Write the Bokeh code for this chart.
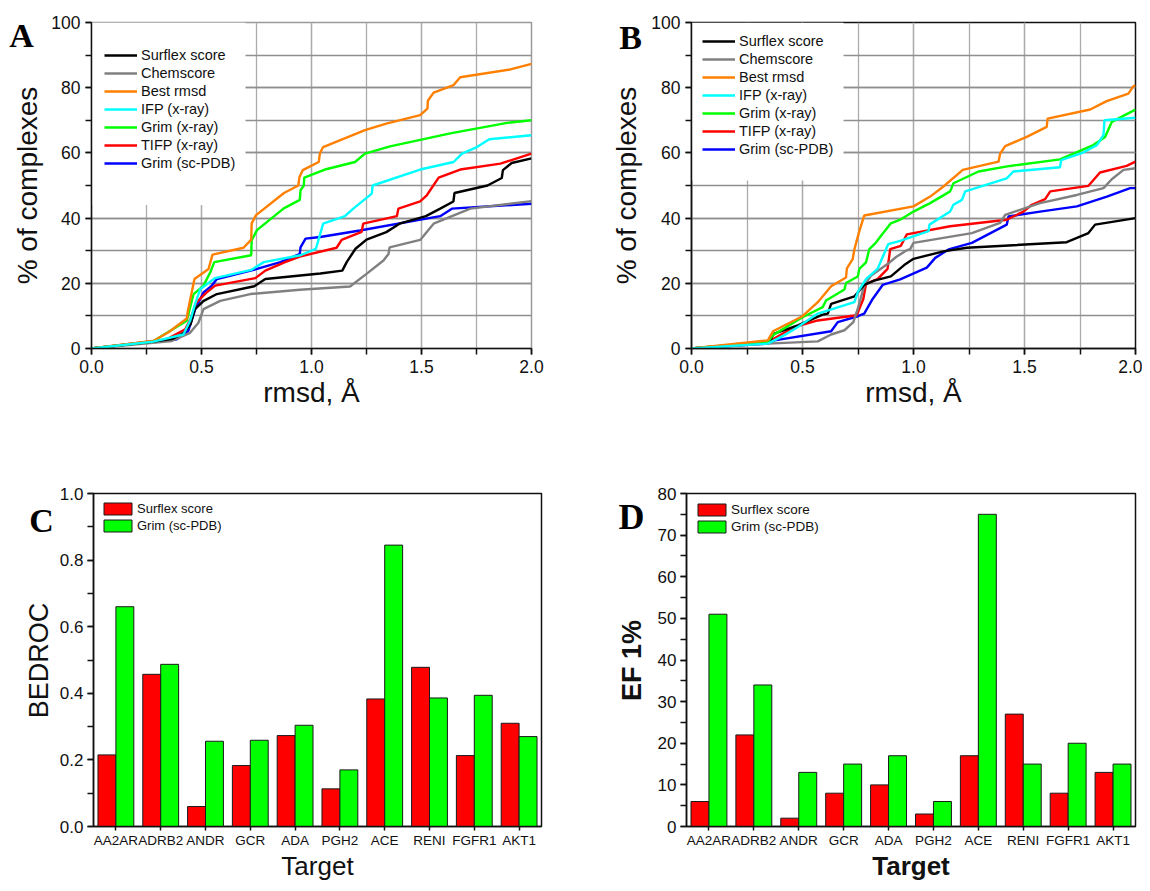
from bokeh.plotting import figure
from bokeh.models import (Range1d, FactorRange, SingleIntervalTicker, PrintfTickFormatter,
                          Legend, LegendItem, Label, BoxAnnotation, ColumnDataSource)
from bokeh.transform import dodge
from bokeh.layouts import row, column
from bokeh.embed import file_html
from bokeh.resources import INLINE

FONT = "Liberation Sans"
SERIF = "Liberation Serif"
INK = "#111111"

series_names = ["Surflex score", "Chemscore", "Best rmsd", "IFP (x-ray)",
                "Grim (x-ray)", "TIFP (x-ray)", "Grim (sc-PDB)"]
series_colors = ["#000000", "#808080", "#FF8000", "#00FFFF", "#00FF00", "#FF0000", "#0000FF"]

# ---------------- Panel A data (rmsd, % of complexes) ----------------
a_surflex_x = [0, 0.28, 0.37, 0.42, 0.45, 0.47, 0.51, 0.57, 0.74, 0.79, 1.04, 1.14, 1.16, 1.20, 1.25,
               1.34, 1.40, 1.52, 1.585, 1.645, 1.65, 1.80, 1.865, 1.87, 1.91, 2.0]
a_surflex_y = [0, 2.1, 3, 4.8, 7.4, 12.1, 14.6, 16.7, 19.1, 21.3, 23, 23.9, 26.5, 30.6, 33.4,
               35.7, 38.3, 40.6, 42.9, 45.1, 47.7, 50, 52.3, 54.7, 56.9, 58.3]
a_chem_x = [0, 0.365, 0.448, 0.486, 0.509, 0.585, 0.722, 0.947, 1.175, 1.25, 1.327, 1.35, 1.355,
            1.494, 1.555, 1.722, 2.0]
a_chem_y = [0, 2.3, 4.8, 7.9, 12.1, 14.6, 16.7, 18, 19, 22.9, 27, 29, 31, 33.3, 38.3, 42.9, 45.2]
a_best_x = [0, 0.281, 0.35, 0.433, 0.438, 0.468, 0.532, 0.55, 0.691, 0.726, 0.728, 0.748, 0.875,
            0.94, 0.945, 0.96, 1.033, 1.038, 1.053, 1.243, 1.34, 1.494, 1.527, 1.529, 1.555,
            1.646, 1.676, 1.904, 2.0]
a_best_y = [0, 2.3, 5, 9.2, 11.5, 21.3, 24.4, 28.8, 30.9, 33.4, 38.4, 40.9, 47.7,
            50, 52.5, 54.7, 57.2, 59.8, 61.8, 67, 69, 71.6, 73.6, 76, 78.5,
            80.8, 83.2, 85.6, 87.3]
a_ifp_x = [0, 0.281, 0.418, 0.448, 0.471, 0.494, 0.562, 0.726, 0.783, 0.95, 1.02, 1.053, 1.152,
           1.19, 1.274, 1.278, 1.494, 1.646, 1.684, 1.752, 1.808, 2.0]
a_ifp_y = [0, 2.1, 4.3, 8.5, 13.6, 18.2, 21.6, 24.1, 26.5, 28.6, 30.6, 38.3, 40.6,
           42.9, 47.5, 50, 54.9, 57.2, 59.8, 61.8, 64.2, 65.4]
a_grimx_x = [0, 0.28, 0.433, 0.464, 0.509, 0.54, 0.558, 0.726, 0.728, 0.752, 0.874, 0.947, 0.95,
             0.965, 0.967, 1.061, 1.198, 1.243, 1.357, 1.631, 1.889, 2.0]
a_grimx_y = [0, 2.2, 8.5, 16.7, 19.3, 23.4, 26.5, 28.6, 33.2, 36.3, 43, 45.6, 48.5,
             50, 52.4, 54.9, 57.2, 59.8, 62, 66, 69.2, 70]
a_tifp_x = [0, 0.342, 0.426, 0.45, 0.475, 0.52, 0.562, 0.745, 0.79, 0.88, 0.947, 1.114, 1.137,
            1.228, 1.235, 1.388, 1.395, 1.494, 1.524, 1.578, 1.676, 1.859, 2.0]
a_tifp_y = [0, 2.8, 5.9, 9, 14, 17, 19.3, 21.6, 23.9, 26.5, 28.2, 30.9, 33.3,
            35.8, 38.3, 40.6, 42.9, 45.1, 47, 52.4, 54.9, 56.7, 59.8]
a_grims_x = [0, 0.388, 0.44, 0.471, 0.509, 0.547, 0.57, 0.752, 0.859, 0.947, 0.95, 0.973, 1.04,
             1.22, 1.585, 1.638, 2.0]
a_grims_y = [0, 2.8, 5.4, 12, 17.2, 19.3, 21.3, 24.4, 26.5, 29, 31, 33.7, 34.2,
             36.2, 40.6, 42.9, 44.4]

# ---------------- Panel B data ----------------
b_surflex_x = [0, 0.352, 0.37, 0.479, 0.591, 0.614, 0.629, 0.734, 0.778, 0.823, 0.898, 0.958, 1.0,
               1.135, 1.24, 1.69, 1.788, 1.818, 2.0]
b_surflex_y = [0, 2, 4.5, 7.1, 10.4, 10.7, 13.7, 16, 19.5, 20.8, 22.1, 25.6, 27.5,
               29.8, 30.9, 32.6, 35.4, 38, 40]
b_chem_x = [0, 0.344, 0.569, 0.629, 0.689, 0.729, 0.749, 0.778, 0.808, 0.883, 0.92, 0.966, 0.985,
            1.0, 1.263, 1.39, 1.413, 1.57, 1.736, 1.856, 1.893, 1.946, 2.0]
b_chem_y = [0, 1.5, 2.2, 4.3, 5.6, 8.1, 12.2, 19.3, 22.3, 25.9, 28, 30, 30.5,
            32.4, 35.4, 38.5, 41, 44.6, 47.1, 49.2, 51.9, 54.8, 55.3]
b_best_x = [0, 0.344, 0.367, 0.5, 0.569, 0.629, 0.696, 0.7, 0.726, 0.734, 0.756, 0.778, 1.0,
            1.075, 1.135, 1.222, 1.383, 1.39, 1.413, 1.51, 1.6, 1.604, 1.796, 1.87, 1.968,
            1.99, 2.0]
b_best_y = [0, 2.5, 5.3, 9.9, 14.2, 19.1, 21.8, 24.6, 27.4, 30.5, 36, 40.8, 43.6,
            46.6, 49.7, 54.8, 57.3, 59.7, 62.1, 64.9, 68, 70.5, 73.3, 75.9, 78.2,
            80.4, 80.7]
b_ifp_x = [0, 0.344, 0.419, 0.479, 0.569, 0.734, 0.749, 0.786, 0.838, 0.886, 0.94, 1.068, 1.072,
           1.165, 1.18, 1.218, 1.233, 1.42, 1.45, 1.66, 1.665, 1.758, 1.826, 1.856, 1.86, 2.0]
b_ifp_y = [0, 1.5, 4.1, 6.6, 10.7, 14.2, 17.3, 21.3, 24.4, 32, 33, 36, 38,
           42, 44.1, 45.6, 48.2, 52.2, 54.3, 55.6, 57.8, 59.9, 62.4, 65.5, 70, 70.8]
b_grimx_x = [0, 0.344, 0.367, 0.5, 0.591, 0.606, 0.689, 0.696, 0.749, 0.756, 0.786, 0.801, 0.831,
             0.853, 0.898, 0.94, 1.0, 1.075, 1.165, 1.18, 1.293, 1.435, 1.66, 1.81, 1.863,
             1.893, 2.0]
b_grimx_y = [0, 2, 4.1, 9.6, 12.7, 14.7, 18.1, 20.1, 22.1, 24.4, 26.4, 30.5, 32.5,
             34.5, 38.4, 39.5, 42, 44.6, 48.2, 50.7, 54.3, 56, 58, 62.4, 64.9,
             69.5, 73.3]
b_tifp_x = [0, 0.344, 0.464, 0.569, 0.744, 0.774, 0.786, 0.838, 0.883, 0.895, 0.943, 0.97, 1.165,
            1.42, 1.495, 1.533, 1.593, 1.616, 1.788, 1.84, 1.96, 2.0]
b_tifp_y = [0, 2, 6.6, 8.6, 10.2, 15.2, 19.8, 21.3, 24.4, 30.5, 31.5, 35, 37.5,
            39.5, 42, 44.1, 45.8, 48.2, 49.9, 54, 56, 57.3]
b_grims_x = [0, 0.344, 0.374, 0.629, 0.659, 0.749, 0.778, 0.816, 0.861, 0.94, 1.06, 1.098, 1.158,
             1.263, 1.42, 1.428, 1.57, 1.736, 1.871, 1.976, 2.0]
b_grims_y = [0, 1.5, 2.5, 5.3, 8.1, 9.9, 10.7, 15.2, 19.5, 21.2, 24.8, 27.8, 30.4,
             32.4, 38, 40.5, 42, 43.6, 46.6, 49.2, 49.2]

# ---------------- Panels C / D data ----------------
targets = ["AA2AR", "ADRB2", "ANDR", "GCR", "ADA", "PGH2", "ACE", "RENI", "FGFR1", "AKT1"]
bedroc_surflex = [0.215, 0.457, 0.060, 0.183, 0.273, 0.113, 0.383, 0.478, 0.213, 0.310]
bedroc_grim = [0.660, 0.487, 0.256, 0.259, 0.304, 0.170, 0.845, 0.386, 0.394, 0.270]
ef1_surflex = [6, 22, 2, 8, 10, 3, 17, 27, 8, 13]
ef1_grim = [51, 34, 13, 15, 17, 6, 75, 15, 20, 15]
bar_labels = ["Surflex score", "Grim (sc-PDB)"]
bar_colors = ["#FF0000", "#00FF00"]


def style_axes(p, tick_size, label_size, label_style="normal"):
    for ax in p.axis:
        ax.axis_line_color = INK
        ax.axis_line_width = 1.5
        ax.major_tick_line_color = INK
        ax.major_tick_line_width = 1.5
        ax.minor_tick_line_color = INK
        ax.minor_tick_line_width = 1.5
        ax.major_tick_in = 0
        ax.major_tick_out = 6
        ax.minor_tick_in = 0
        ax.minor_tick_out = 6
        ax.major_label_text_font = FONT
        ax.major_label_text_font_size = tick_size
        ax.major_label_text_color = INK
        ax.axis_label_text_font = FONT
        ax.axis_label_text_font_size = label_size
        ax.axis_label_text_font_style = label_style
        ax.axis_label_text_color = INK


def side_strip(width, height, frame_top, frame_bottom, letter, letter_x, letter_y, letter_size,
               ytitle, ytitle_x, ytitle_y, ytitle_size, ytitle_style):
    """Narrow figure holding the panel letter and the rotated y-axis title.
    Its frame is aligned with the neighbouring plot frames (rows align frames), so the
    y range is chosen to make one data unit equal one pixel measured from the canvas bottom."""
    s = figure(width=width, height=height, x_range=Range1d(0, width),
               y_range=Range1d(height - frame_bottom, height - frame_top),
               output_backend="svg", toolbar_location=None, min_border=0,
               x_axis_type=None, y_axis_type=None)
    s.outline_line_color = None
    s.background_fill_color = "white"
    s.border_fill_color = "white"
    s.add_layout(Label(x=letter_x, y=letter_y, text=letter, text_font=SERIF,
                       text_font_style="bold", text_font_size=letter_size, text_align="center",
                       text_baseline="alphabetic", text_color="#000000"))
    s.add_layout(Label(x=ytitle_x, y=ytitle_y, text=ytitle, angle=90, angle_units="deg",
                       text_font=FONT, text_font_style=ytitle_style,
                       text_font_size=ytitle_size, text_align="center",
                       text_baseline="middle", text_color=INK))
    return s


def curve_panel(curves, width, height, borders, box, leg_loc, outline):
    bl, br, bt, bb = borders
    p = figure(width=width, height=height, x_range=Range1d(0, 2), y_range=Range1d(0, 100),
               output_backend="svg", toolbar_location=None,
               min_border_left=bl, min_border_right=br, min_border_top=bt, min_border_bottom=bb)
    p.background_fill_color = "white"
    p.border_fill_color = "white"
    p.outline_line_color = outline
    p.outline_line_width = 1.5
    p.xaxis.ticker = SingleIntervalTicker(interval=0.5, num_minor_ticks=2)
    p.yaxis.ticker = SingleIntervalTicker(interval=20, num_minor_ticks=2)
    p.xaxis.formatter = PrintfTickFormatter(format="%.1f")
    p.xaxis.axis_label = "rmsd, Å"
    style_axes(p, "17.5px", "28px")
    p.xaxis.major_label_standoff = 5
    p.yaxis.major_label_standoff = 5
    p.xaxis.axis_label_standoff = 1
    p.xgrid.grid_line_color = "#ABABAB"
    p.xgrid.minor_grid_line_color = "#ABABAB"
    p.ygrid.grid_line_color = "#8F8F8F"
    p.ygrid.minor_grid_line_color = "#8F8F8F"
    for g in (p.xgrid[0], p.ygrid[0]):
        g.grid_line_width = 1.3
        g.minor_grid_line_width = 1.3
    p.add_layout(BoxAnnotation(left=0, right=box[0], bottom=box[1], top=100,
                               fill_color="white", fill_alpha=1.0, line_alpha=0,
                               level="underlay"))
    rends = {}
    draw_order = [6, 5, 1, 0, 4, 2, 3]
    for i in draw_order:
        xs, ys = curves[i]
        rends[i] = p.line(xs, ys, line_color=series_colors[i], line_width=2.4)
    items = [LegendItem(label=series_names[i], renderers=[rends[i]]) for i in range(7)]
    leg = Legend(items=items, location=leg_loc, padding=0, margin=0, spacing=0,
                 glyph_width=33, glyph_height=18, label_height=18, label_standoff=4,
                 label_text_font=FONT, label_text_font_size="14.5px", label_text_color=INK,
                 background_fill_alpha=0, border_line_alpha=0)
    p.add_layout(leg)
    return p


def bar_panel(vals_s, vals_g, ymax, interval, xlabel_style, width, height, borders,
              leg_margin, leg_font):
    bl, br, bt, bb = borders
    p = figure(width=width, height=height, x_range=FactorRange(*targets, range_padding=0),
               y_range=Range1d(0, ymax), output_backend="svg", toolbar_location=None,
               min_border_left=bl, min_border_right=br, min_border_top=bt, min_border_bottom=bb)
    p.background_fill_color = "white"
    p.border_fill_color = "white"
    p.outline_line_color = INK
    p.outline_line_width = 1.5
    p.xgrid.visible = False
    p.ygrid.visible = False
    src = ColumnDataSource(dict(target=targets, s=vals_s, g=vals_g))
    r1 = p.vbar(x=dodge("target", -0.2, range=p.x_range), top="s", width=0.4, source=src,
                fill_color=bar_colors[0], line_color="#1a1a1a", line_width=1)
    r2 = p.vbar(x=dodge("target", 0.2, range=p.x_range), top="g", width=0.4, source=src,
                fill_color=bar_colors[1], line_color="#1a1a1a", line_width=1)
    p.yaxis.ticker = SingleIntervalTicker(interval=interval, num_minor_ticks=2)
    if ymax <= 1:
        p.yaxis.formatter = PrintfTickFormatter(format="%.1f")
    p.xaxis.axis_label = "Target"
    style_axes(p, "17px", "26px", xlabel_style)
    p.xaxis.major_label_text_font_size = "13.5px"
    p.xaxis.major_tick_out = 4
    p.xaxis.major_label_standoff = 2
    p.xaxis.axis_label_standoff = 0
    p.yaxis.major_label_standoff = 4
    leg = Legend(items=[LegendItem(label=bar_labels[0], renderers=[r1]),
                        LegendItem(label=bar_labels[1], renderers=[r2])],
                 location="top_left", padding=0, margin=leg_margin, spacing=1,
                 glyph_width=35, glyph_height=15, label_height=16, label_standoff=2,
                 label_text_font=FONT, label_text_font_size=leg_font, label_text_color=INK,
                 background_fill_alpha=0, border_line_alpha=0)
    p.add_layout(leg)
    return p


curves_a = [(a_surflex_x, a_surflex_y), (a_chem_x, a_chem_y), (a_best_x, a_best_y),
            (a_ifp_x, a_ifp_y), (a_grimx_x, a_grimx_y), (a_tifp_x, a_tifp_y),
            (a_grims_x, a_grims_y)]
curves_b = [(b_surflex_x, b_surflex_y), (b_chem_x, b_chem_y), (b_best_x, b_best_y),
            (b_ifp_x, b_ifp_y), (b_grimx_x, b_grimx_y), (b_tifp_x, b_tifp_y),
            (b_grims_x, b_grims_y)]

TOP_H = 448
BOT_H = 435
TOP_FRAME = (22, 348)   # frame top / bottom inside the first row (pixels from its top)
BOT_FRAME = (45, 380)   # frame top / bottom inside the second row

sA = side_strip(45, TOP_H, TOP_FRAME[0], TOP_FRAME[1], "A", 21, 413, "34px",
                "% of complexes", 27, 263, "28px", "normal")
pA = curve_panel(curves_a, 538, TOP_H, (46, 52, TOP_FRAME[0], TOP_H - TOP_FRAME[1]),
                 (0.70, 44), (13, 176), "#9A9A9A")
sB = side_strip(65, TOP_H, TOP_FRAME[0], TOP_FRAME[1], "B", 47, 411, "34px",
                "% of complexes", 43, 263, "28px", "normal")
pB = curve_panel(curves_b, 494, TOP_H, (42, 7, TOP_FRAME[0], TOP_H - TOP_FRAME[1]),
                 (0.685, 51.5), (11, 190), INK)

sC = side_strip(56, BOT_H, BOT_FRAME[0], BOT_FRAME[1], "C", 41, 363, "34px",
                "BEDROC", 38, 222, "27px", "normal")
pC = bar_panel(bedroc_surflex, bedroc_grim, 1.0, 0.2, "normal", 527, BOT_H,
               (37, 42, BOT_FRAME[0], BOT_H - BOT_FRAME[1]), 7, "13px")
sD = side_strip(69, BOT_H, BOT_FRAME[0], BOT_FRAME[1], "D", 48, 366, "36px",
                "EF 1%", 48, 222, "27px", "bold")
pD = bar_panel(ef1_surflex, ef1_grim, 80, 10, "bold", 490, BOT_H,
               (34, 7, BOT_FRAME[0], BOT_H - BOT_FRAME[1]), 8, "13.5px")

layout = column(row(sA, pA, sB, pB, spacing=0), row(sC, pC, sD, pD, spacing=0), spacing=0)
open("out.html", "w").write(file_html(layout, INLINE))
